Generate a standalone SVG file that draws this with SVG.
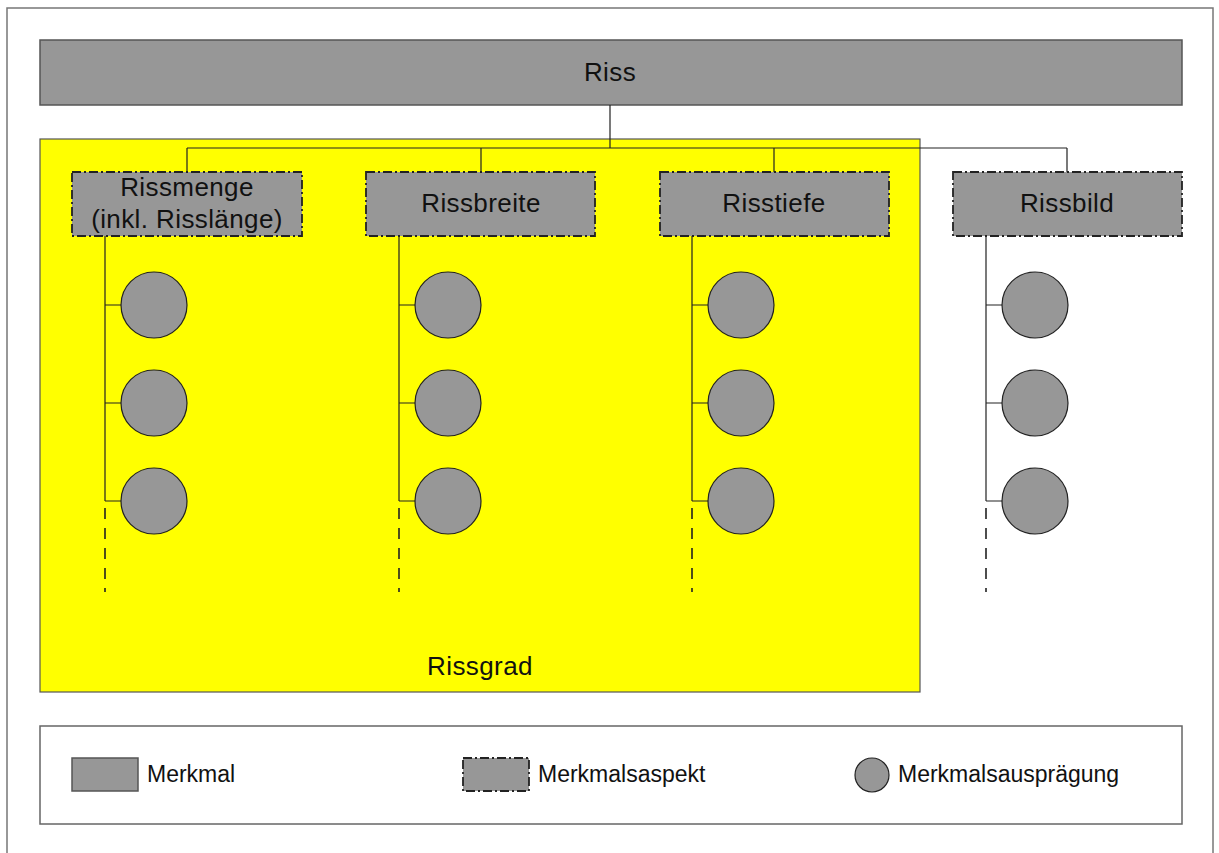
<svg xmlns="http://www.w3.org/2000/svg" width="1219" height="853" viewBox="0 0 1219 853">
<style>
.bar{fill:#979797;stroke:#555;stroke-width:1.5}
.asp{fill:#979797;stroke:#222;stroke-width:1.8;stroke-dasharray:9,3,2,3}
.c{fill:#979797;stroke:#222;stroke-width:1.2}
.ln{fill:none;stroke:#222;stroke-width:1.2}
.dl{fill:none;stroke:#222;stroke-width:1.6;stroke-dasharray:11,9}
.t{font-family:"Liberation Sans",Arial,sans-serif;font-size:26px;letter-spacing:0.4px;fill:#111;text-anchor:middle}
.lg{font-family:"Liberation Sans",Arial,sans-serif;font-size:23px;fill:#111}
</style>
<rect x="7" y="8" width="1206" height="860" fill="#fff" stroke="#777" stroke-width="1.5"/>
<rect id="rissgrad" x="40" y="139" width="880" height="553" fill="#ffff00" stroke="#555" stroke-width="1.2"/>
<text class="t" x="480" y="675">Rissgrad</text>
<g id="riss"><rect class="bar" x="40" y="40" width="1142" height="65"/><text class="t" x="610" y="81">Riss</text></g>
<g id="connectors">
<path class="ln" d="M610 105V148M187 148H1067M187 148V172M481 148V172M774 148V172M1067 148V172"/>
<path class="ln" d="M105 236V501M105 305H122M105 403H122M105 501H122"/>
<path class="ln" d="M399 236V501M399 305H416M399 403H416M399 501H416"/>
<path class="ln" d="M692 236V501M692 305H709M692 403H709M692 501H709"/>
<path class="ln" d="M986 236V501M986 305H1003M986 403H1003M986 501H1003"/>
<path class="dl" d="M105 508V592M399 508V592M692 508V592M986 508V592"/>
</g>
<g id="rissmenge"><rect class="asp" x="72" y="172" width="230" height="64"/><text class="t" x="187" y="196">Rissmenge</text><text class="t" x="187" y="228">(inkl. Risslänge)</text></g>
<g id="rissbreite"><rect class="asp" x="366" y="172" width="229" height="64"/><text class="t" x="481" y="212">Rissbreite</text></g>
<g id="risstiefe"><rect class="asp" x="660" y="172" width="229" height="64"/><text class="t" x="774" y="212">Risstiefe</text></g>
<g id="rissbild"><rect class="asp" x="953" y="172" width="229" height="64"/><text class="t" x="1067" y="212">Rissbild</text></g>
<g id="values-rissmenge"><circle class="c" cx="154" cy="305" r="33"/><circle class="c" cx="154" cy="403" r="33"/><circle class="c" cx="154" cy="501" r="33"/></g>
<g id="values-rissbreite"><circle class="c" cx="448" cy="305" r="33"/><circle class="c" cx="448" cy="403" r="33"/><circle class="c" cx="448" cy="501" r="33"/></g>
<g id="values-risstiefe"><circle class="c" cx="741" cy="305" r="33"/><circle class="c" cx="741" cy="403" r="33"/><circle class="c" cx="741" cy="501" r="33"/></g>
<g id="values-rissbild"><circle class="c" cx="1035" cy="305" r="33"/><circle class="c" cx="1035" cy="403" r="33"/><circle class="c" cx="1035" cy="501" r="33"/></g>
<g id="legend">
<rect x="40" y="726" width="1142" height="98" fill="#fff" stroke="#666" stroke-width="1.5"/>
<rect class="bar" x="72" y="758" width="66" height="33"/><text class="lg" x="147" y="782">Merkmal</text>
<rect class="asp" x="463" y="758" width="66" height="33"/><text class="lg" x="538" y="782">Merkmalsaspekt</text>
<circle class="c" cx="872" cy="775" r="17"/><text class="lg" x="898" y="782">Merkmalsausprägung</text>
</g>
</svg>
